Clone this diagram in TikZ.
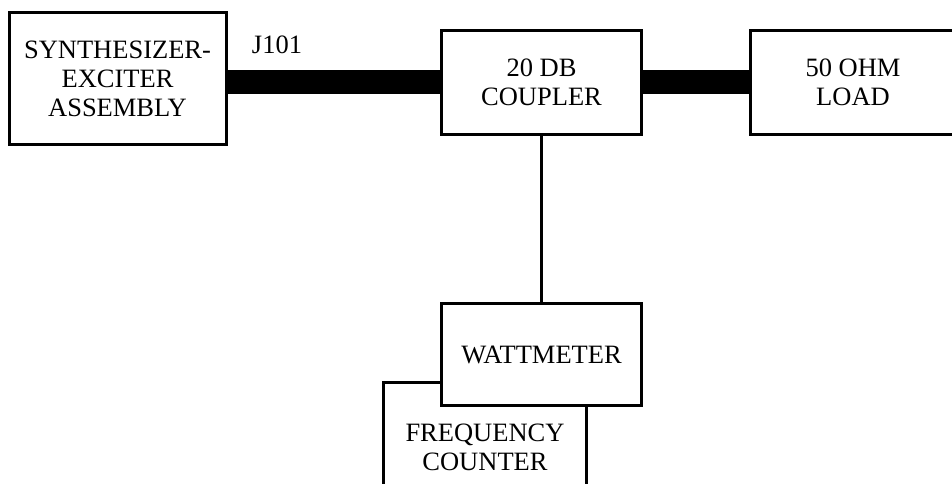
\documentclass[tikz,border=0pt]{standalone}
\usepackage{fontspec}
\setmainfont{Liberation Serif}
\usetikzlibrary{positioning}
\begin{document}
\begin{tikzpicture}[x=1pt,y=-1pt,
    blk/.style={draw,line width=3pt,fill=white,align=center,inner sep=0pt,font=\fontsize{26.5}{29}\selectfont},
    bus/.style={line width=24pt},
    wire/.style={line width=2.5pt}
  ]
  \useasboundingbox (0,0) rectangle (952,484);
  \clip (0,0) rectangle (952,484);
  \node[blk,minimum width=217pt,minimum height=131pt] (synth) at (117.5,78.5) {SYNTHESIZER-\\EXCITER\\ASSEMBLY};
  \node[blk,minimum width=200pt,minimum height=104pt] (coupler) at (541.5,82.5) {20 DB\\COUPLER};
  \node[blk,minimum width=206pt,minimum height=104pt] (load) at (853,82.5) {50 OHM\\LOAD};
  \node[blk,minimum width=203pt,minimum height=130pt] (counter) at (485,447) {FREQUENCY\\COUNTER};
  \node[blk,minimum width=200pt,minimum height=102pt] (watt) at (541.5,354.5) {WATTMETER};
  \node[font=\fontsize{26.5}{29}\selectfont] (jack) at (277,45) {J101};
  \draw[bus] (synth.east |- coupler.west) -- (coupler.west);
  \draw[bus] (coupler.east) -- (load.west);
  \draw[wire] (coupler.south) -- (watt.north);
\end{tikzpicture}
\end{document}
